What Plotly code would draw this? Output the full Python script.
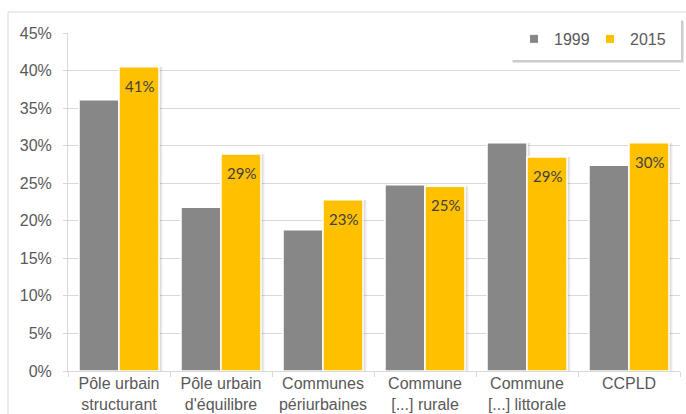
import plotly.graph_objects as go

categories = ["Pôle urbain<br>structurant", "Pôle urbain<br>d'équilibre", "Communes<br>périurbaines",
              "Commune<br>[...] rurale", "Commune<br>[...] littorale", "CCPLD"]
v1999 = [36.1, 21.8, 18.8, 24.8, 30.4, 27.4]
v2015 = [40.5, 28.9, 22.8, 24.6, 28.5, 30.4]
labels2015 = ["41%", "29%", "23%", "25%", "29%", "30%"]
yticks = [0, 5, 10, 15, 20, 25, 30, 35, 40, 45]
ytext = [f"{t}%" for t in yticks]
series = ["1999", "2015"]

GRAY = "#878787"
YELLOW = "#FFC000"
TXT = "#595959"
BW = 0.392  # bar width in category units

fig = go.Figure()
# soft shadows
for vals, off in [(v1999, -BW), (v2015, 0.0)]:
    for d, a in [(0.035, 0.06), (0.022, 0.08)]:
        fig.add_trace(go.Bar(x=categories, y=vals, width=BW, offset=off + d, showlegend=False,
                             hoverinfo="skip", marker=dict(color=f"rgba(0,0,0,{a})", line=dict(width=0))))
fig.add_trace(go.Bar(x=categories, y=v1999, name=series[0], showlegend=False, width=BW, offset=-BW,
                     marker=dict(color=GRAY, line=dict(color="white", width=1.5))))
fig.add_trace(go.Bar(x=categories, y=v2015, name=series[1], showlegend=False, width=BW, offset=0.0,
                     marker=dict(color=YELLOW, line=dict(color="white", width=1.5))))
# legend entries with small square symbols
for s, col in zip(series, [GRAY, YELLOW]):
    fig.add_trace(go.Scatter(x=[None], y=[None], mode="markers", name=s,
                             marker=dict(symbol="square", size=8, color=col)))

for c, v, t in zip(categories, v2015, labels2015):
    fig.add_annotation(x=c, y=v, text=t, showarrow=False, xshift=20, yshift=-19,
                       yanchor="middle", font=dict(family="Lato", size=15, color="#404040"))

W, H = 686, 414
L, R, T, B = 68, 6, 33, 43
pw, ph = W - L - R, H - T - B

def px(x):
    return (x - L) / pw

def py(y):
    return (H - B - y) / ph

# outer chart border
fig.add_shape(type="rect", xref="paper", yref="paper", x0=px(8), x1=px(700), y0=py(430), y1=py(12),
              line=dict(color="#d9d9d9", width=1), fillcolor="rgba(0,0,0,0)", layer="below")
# legend box shadow + box
fig.add_shape(type="rect", xref="paper", yref="paper", x0=px(513), x1=px(684), y0=py(63), y1=py(21),
              line=dict(width=0), fillcolor="rgba(0,0,0,0.10)", layer="above")
fig.add_shape(type="rect", xref="paper", yref="paper", x0=px(512), x1=px(683), y0=py(62), y1=py(20),
              line=dict(width=0), fillcolor="rgba(0,0,0,0.10)", layer="above")
fig.add_shape(type="rect", xref="paper", yref="paper", x0=px(510), x1=px(681), y0=py(60), y1=py(18),
              line=dict(width=0), fillcolor="white", layer="above")

fig.update_layout(
    width=W, height=H,
    margin=dict(l=L, r=R, t=T, b=B, autoexpand=False),
    paper_bgcolor="white", plot_bgcolor="white",
    barmode="overlay",
    font=dict(family="Liberation Sans", color=TXT),
    showlegend=True,
    legend=dict(orientation="h", x=px(514), xanchor="left", y=py(22), yanchor="top",
                bgcolor="rgba(0,0,0,0)", borderwidth=0, entrywidth=31,
                font=dict(size=16, color=TXT)),
    xaxis=dict(showline=True, linecolor="#d9d9d9", ticks="outside", tickson="boundaries",
               ticklen=5, tickcolor="#d9d9d9", tickfont=dict(size=16, color=TXT), showgrid=False,
               tickangle=0, automargin=False, ticklabelstandoff=-2),
    yaxis=dict(range=[0, 45], tickvals=yticks, ticktext=ytext, showgrid=True, gridcolor="#d9d9d9",
               showline=True, linecolor="#d9d9d9", ticks="outside", ticklen=4, tickcolor="#d9d9d9",
               ticklabelstandoff=8, automargin=False,
               tickfont=dict(size=16, color=TXT), zeroline=False),
)

fig.write_html("out.html")
